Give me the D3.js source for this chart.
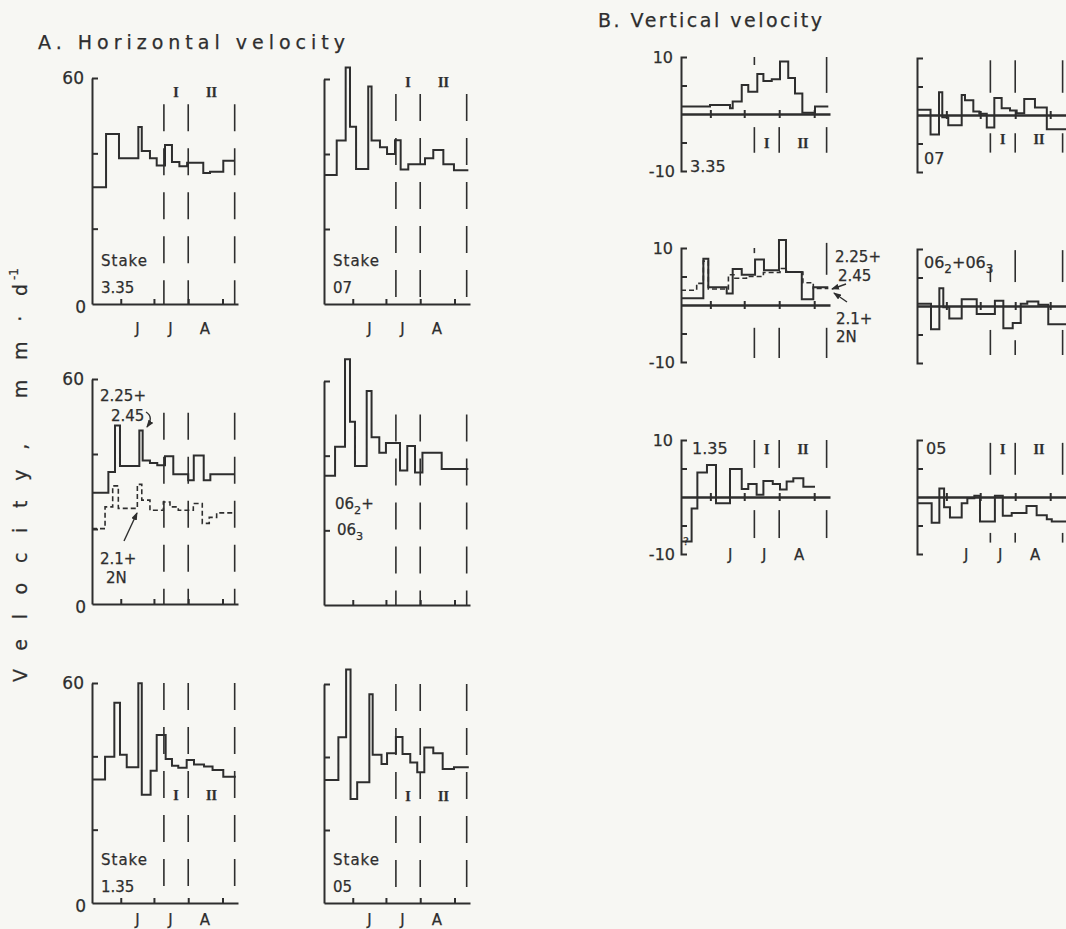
<!DOCTYPE html>
<html>
<head>
<meta charset="utf-8">
<script src="https://cdn.jsdelivr.net/npm/d3@7"></script>
<style>
body{margin:0;background:#f7f7f3}
svg{display:block}
text{font-family:'DejaVu Sans',sans-serif;fill:#2e2e2e;stroke:#2e2e2e;stroke-width:0.25px}
</style>
</head>
<body>
<svg id="chart"></svg>
<script>
// days counted from 1 May; every "Days" list has one entry more than its "Vals" list (last = end of record)
var monthTicks = [31, 61, 92, 123]
var monthNames = ['J', 'J', 'A']
var monthMids = [46, 76, 107]
var periodDays = [70, 92, 134]
var periodNames = ['I', 'II']
var periodMids = [81, 113]
var hTicks = [20, 40, 60]
var vTicks = [-5, 5]

// A. horizontal velocity, mm/d
var h335Days = [5, 17.7, 29.4, 46.9, 50, 57.4, 63.5, 71, 77.3, 84, 91, 105.6, 111.7, 123.7, 134.3]
var h335Vals = [31.0, 45.1, 38.7, 47.0, 40.6, 38.7, 36.8, 42.2, 37.7, 36.6, 37.5, 34.8, 35.1, 38.0]
var h07Days = [5, 16.5, 24.6, 28.5, 34, 45, 48, 55.6, 62, 69.2, 74.3, 81.2, 96.3, 103.8, 112.9, 122.5, 135.5]
var h07Vals = [34.4, 43.6, 63.1, 47.3, 36.0, 58.0, 43.6, 41.8, 40.0, 43.7, 35.9, 37.3, 38.9, 41.1, 37.3, 35.7]
var h225Days = [5, 19.8, 25.8, 30.3, 47.8, 50.8, 57.4, 64, 71, 78.5, 92, 97, 106, 112, 134]
var h225Vals = [29.7, 35.2, 47.6, 36.8, 46.3, 38.3, 37.6, 37.0, 39.4, 34.6, 33.0, 39.6, 33.0, 34.6]
var h21Days = [5, 16.8, 23.7, 28.8, 46, 50, 57.4, 69.5, 75.5, 83, 96.6, 104.7, 111, 117.7, 134]
var h21Vals = [20.1, 25.9, 31.5, 25.5, 31.9, 27.7, 25.0, 27.2, 25.9, 25.0, 26.8, 21.5, 23.1, 24.3]
var h063Days = [5, 15, 24, 28.5, 33, 43.6, 48, 55, 61, 73.7, 80.3, 87.3, 94, 111.4, 135.5]
var h063Vals = [34.6, 42.4, 65.8, 49.1, 37.2, 57.3, 44.9, 40.8, 43.4, 36.0, 42.6, 35.5, 40.8, 36.4]
var h135Days = [5, 16.8, 25.2, 30.3, 36.4, 46.9, 50, 58, 63.5, 71.6, 77.3, 83, 90.6, 97.2, 106.3, 114, 123.7, 135]
var h135Vals = [33.7, 39.9, 54.6, 40.4, 37.0, 59.9, 29.5, 36.1, 45.8, 39.3, 37.4, 36.9, 39.0, 37.8, 37.2, 36.3, 34.4]
var h05Days = [5, 18, 25, 29, 35, 46, 49, 57, 62, 70, 76, 83, 89.3, 95.7, 103.8, 112.3, 122.5, 135.9]
var h05Vals = [33.7, 45.4, 64.0, 28.5, 33.1, 57.2, 40.6, 38.1, 41.0, 45.5, 40.8, 38.5, 35.8, 42.6, 41.0, 36.7, 37.2]

// B. vertical velocity, mm/d
var v335Days = [5, 30.7, 48.4, 50.8, 58.8, 64.6, 72.6, 78, 85.4, 92.7, 100, 106, 112.5, 123.7, 135.5]
var v335Vals = [1.3, 1.6, 1.0, 2.2, 5.1, 3.9, 7.0, 5.8, 6.1, 9.2, 6.3, 3.6, 0.2, 1.3]
var v07Days = [5, 17, 24.5, 27.4, 32.7, 44.6, 47.5, 54.9, 60.2, 66.8, 73.5, 80, 87.4, 93.3, 100, 109.5, 120, 137]
var v07Vals = [0.9, -3.4, 4.0, -0.4, -1.8, 3.5, 2.6, 0.6, 0.2, -2.2, 3.0, 1.2, 0.8, 0.3, 2.8, 1.3, -2.5]
var v225Days = [5, 24.8, 29.2, 45.5, 50.8, 58.8, 70.6, 78.5, 91.8, 98, 112, 122.2, 135.5]
var v225Vals = [1.2, 8.1, 3.1, 2.0, 6.3, 5.3, 8.0, 6.1, 11.4, 5.8, 1.0, 3.1]
var v21Days = [5, 18.9, 24.8, 29.2, 47, 52.8, 63, 78, 92.7, 98.6, 113, 122.2, 135.5]
var v21Vals = [2.6, 3.8, 7.7, 2.8, 5.3, 4.7, 5.0, 5.7, 6.4, 5.8, 3.9, 2.9]
var v063Days = [5, 17.4, 24.8, 28.3, 33.6, 44.6, 57.9, 74, 81.5, 89.8, 96.9, 102.7, 112.5, 121.3, 137]
var v063Vals = [0.4, -4.1, 3.1, -0.2, -2.2, 1.2, -1.4, 0.9, -3.9, -3.0, 0.4, 0.8, 0.2, -3.2]
var v135Days = [5, 14.4, 19.5, 28, 36, 48.4, 58.8, 64.6, 72, 78, 86.3, 92.7, 98.6, 104.5, 113.4, 123.7]
var v135Vals = [-7.8, -2.0, 4.3, 5.6, -1.1, 4.9, 1.4, 2.3, 0.4, 2.8, 2.3, 1.3, 2.7, 3.3, 1.8]
var v05Days = [5, 18, 24.8, 29, 34.2, 44.6, 49.6, 55.8, 60.8, 74, 81, 88.9, 102, 111, 120, 124.4, 137]
var v05Vals = [-1.1, -4.5, 1.5, -1.8, -3.6, -1.1, -0.2, 0.2, -4.3, 0.2, -3.3, -2.8, -1.6, -3.2, -3.9, -4.3]

var ink = '#2e2e2e'
var svg = d3.select('#chart').attr('width', 1066).attr('height', 929)
svg.append('rect').attr('width', 1066).attr('height', 929).attr('fill', '#f7f7f3')

svg.append('defs').append('marker')
  .attr('id', 'arr').attr('viewBox', '0 0 8 6').attr('refX', 7).attr('refY', 3)
  .attr('markerWidth', 8).attr('markerHeight', 6).attr('orient', 'auto')
  .attr('markerUnits', 'userSpaceOnUse')
  .append('path').attr('d', 'M0,0L8,3L0,6z').attr('fill', ink)

var stepPath = function(days, vals, x, y){
  var pts = vals.map(function(v, i){ return [days[i], v] })
  pts.push([days[days.length - 1], vals[vals.length - 1]])
  return d3.line().x(function(d){ return x(d[0]) }).y(function(d){ return y(d[1]) })
    .curve(d3.curveStepAfter)(pts)
}

var styleAxis = function(sel, sw){
  sel.select('.domain').attr('stroke', ink).attr('stroke-width', sw || 2)
  sel.selectAll('.tick line').attr('stroke', ink).attr('stroke-width', 2)
  sel.selectAll('.tick text').remove()
}

// text helper: parts = [[string, isSub], ...]
var label = function(g, x, y, parts, size, anchor){
  var t = g.append('text').attr('x', x).attr('y', y)
    .style('font-size', size + 'px').attr('text-anchor', anchor || 'start')
  if (typeof parts === 'string') parts = [[parts, false]]
  parts.forEach(function(p, i){
    var prevSub = i > 0 && parts[i - 1][1]
    var dy = p[1] ? size * 0.3 : (prevSub ? -size * 0.3 : 0)
    t.append('tspan').attr('dy', dy).style('font-size', (p[1] ? size * 0.75 : size) + 'px').text(p[0])
  })
  return t
}

var roman = function(g, x, y, txt){
  g.append('text').attr('x', x).attr('y', y).attr('text-anchor', 'middle')
    .style('font-family', "'Liberation Serif',serif").style('font-weight', 'bold')
    .style('font-size', '14px').text(txt)
}

var panelA = function(o){
  var w = 146, h = o.bottom - o.top
  var x = d3.scaleLinear().domain([5, 137]).range([0, w])
  var y = d3.scaleLinear().domain([0, 60]).range([h, 0])
  var g = svg.append('g').attr('transform', 'translate(' + o.x + ',' + o.top + ')')

  g.selectAll('.per').data(periodDays).enter().append('line')
    .attr('x1', function(d){ return x(d) }).attr('x2', function(d){ return x(d) })
    .attr('y1', y(o.dashFrom)).attr('y2', h)
    .attr('stroke', ink).attr('stroke-width', 1.6).attr('stroke-dasharray', '27,17')

  var ya = g.append('g').call(d3.axisRight(y).tickValues(hTicks).tickSize(6).tickSizeOuter(0).tickFormat(''))
  styleAxis(ya)
  var xa = g.append('g').attr('transform', 'translate(0,' + h + ')')
    .call(d3.axisTop(x).tickValues(monthTicks).tickSize(5).tickSizeOuter(0).tickFormat(''))
  styleAxis(xa)

  o.series.forEach(function(s){
    g.append('path').attr('d', stepPath(s.days, s.vals, x, y))
      .attr('fill', 'none').attr('stroke', ink).attr('stroke-width', s.dash ? 1.6 : 2)
      .attr('stroke-dasharray', s.dash ? '5,3' : null)
  })

  if (o.axisLabels){
    label(g, -8, y(60) + 6, '60', 17, 'end')
    label(g, -6, h + 9, '0', 17, 'end')
  }
  if (o.months){
    monthNames.forEach(function(m, i){ label(g, x(monthMids[i]), h + o.months, m, 15, 'middle') })
  }
  if (o.romanY != null){
    periodNames.forEach(function(r, i){ roman(g, x(periodMids[i]), y(o.romanY), r) })
  }
  if (o.stake){
    label(g, 9, h - 38, 'Stake', 15).attr('letter-spacing', 1)
    label(g, 9, h - 11, o.stake, 15)
  }
  return {g: g, x: x, y: y, h: h}
}

var panelB = function(o){
  var w = 149, hh = 57
  var x = d3.scaleLinear().domain([5, 137]).range([0, w])
  var y = d3.scaleLinear().domain([-10, 10]).range([hh, -hh])
  var g = svg.append('g').attr('transform', 'translate(' + o.x + ',' + o.zero + ')')

  o.segs.forEach(function(list, i){
    list.forEach(function(s){
      g.append('line').attr('x1', x(periodDays[i])).attr('x2', x(periodDays[i]))
        .attr('y1', y(s[0])).attr('y2', y(s[1])).attr('stroke', ink).attr('stroke-width', 1.6)
    })
  })

  var ya = g.append('g').call(d3.axisRight(y).tickValues(vTicks).tickSize(6).tickSizeOuter(6).tickFormat(''))
  styleAxis(ya)
  var za = g.append('g').call(d3.axisBottom(x).tickValues(monthTicks).tickSize(4).tickSizeOuter(0).tickFormat(''))
  styleAxis(za, 2.6)
  za.selectAll('.tick line').attr('y1', -4).attr('y2', 4)

  o.series.forEach(function(s){
    g.append('path').attr('d', stepPath(s.days, s.vals, x, y))
      .attr('fill', 'none').attr('stroke', ink).attr('stroke-width', s.dash ? 1.6 : 2)
      .attr('stroke-dasharray', s.dash ? '5,3' : null)
  })

  if (o.axisLabels){
    label(g, -8, y(10) + 6, '10', 16, 'end')
    label(g, -6, y(-10) + 6, '-10', 16, 'end')
  }
  if (o.romanY != null){
    periodNames.forEach(function(r, i){ roman(g, x(periodMids[i]), y(o.romanY), r) })
  }
  if (o.months){
    monthNames.forEach(function(m, i){ label(g, x(monthMids[i]) + 3, y(-10) + 6, m, 15, 'middle') })
  }
  return {g: g, x: x, y: y}
}

// titles
svg.append('text').attr('x', 38).attr('y', 49).attr('textLength', 307).attr('lengthAdjust', 'spacing')
  .style('font-size', '19px').text('A. Horizontal velocity')
svg.append('text').attr('x', 598).attr('y', 27).attr('textLength', 224).attr('lengthAdjust', 'spacing')
  .style('font-size', '19px').text('B. Vertical velocity')

var yl = svg.append('g').attr('transform', 'translate(27,682) rotate(-90)')
yl.append('text').attr('x', 0).attr('y', 0).attr('textLength', 398).attr('lengthAdjust', 'spacing')
  .style('font-size', '19px').text('Velocity,  mm·d')
yl.append('text').attr('x', 402).attr('y', -9).style('font-size', '12px').text('-1')

// A panels
panelA({x: 92, top: 78, bottom: 304, dashFrom: 53, axisLabels: true, months: 30, romanY: 55, stake: '3.35',
  series: [{days: h335Days, vals: h335Vals}]})
panelA({x: 324, top: 79, bottom: 304, dashFrom: 56, months: 30, romanY: 58, stake: '07',
  series: [{days: h07Days, vals: h07Vals}]})

var a2 = panelA({x: 92, top: 379, bottom: 604, dashFrom: 51, axisLabels: true,
  series: [{days: h225Days, vals: h225Vals}, {days: h21Days, vals: h21Vals, dash: true}]})
label(a2.g, 8, 22, '2.25+', 15)
label(a2.g, 19, 42, '2.45', 15)
a2.g.append('path').attr('d', 'M54,33 Q62,38 55,48').attr('fill', 'none').attr('stroke', ink)
  .attr('stroke-width', 1.4).attr('marker-end', 'url(#arr)')
label(a2.g, 8, 185, '2.1+', 15)
label(a2.g, 14, 204, '2N', 15)
a2.g.append('line').attr('x1', 32).attr('y1', 162).attr('x2', 45).attr('y2', 134)
  .attr('stroke', ink).attr('stroke-width', 1.4).attr('marker-end', 'url(#arr)')

var a2r = panelA({x: 324, top: 381, bottom: 605, dashFrom: 51,
  series: [{days: h063Days, vals: h063Vals}]})
label(a2r.g, 11, 128, [['06', false], ['2', true], ['+', false]], 15)
label(a2r.g, 13, 154, [['06', false], ['3', true]], 15)

panelA({x: 92, top: 683, bottom: 903, dashFrom: 60, axisLabels: true, months: 22, romanY: 28, stake: '1.35',
  series: [{days: h135Days, vals: h135Vals}]})
panelA({x: 324, top: 684, bottom: 903, dashFrom: 60, months: 22, romanY: 28, stake: '05',
  series: [{days: h05Days, vals: h05Vals}]})

// B panels
var b1 = panelB({x: 681, zero: 114, axisLabels: true, romanY: -6,
  segs: [[[10, 8.6], [-2.3, -6.8]], [[-2.3, -6.8]], [[10, 3.7], [-2.3, -6.8]]],
  series: [{days: v335Days, vals: v335Vals}]})
label(b1.g, 9, 58, '3.35', 16)

var b1r = panelB({x: 917, zero: 115, romanY: -5,
  segs: [[[9.6, 3.9], [-3.2, -6.6]], [[9.6, 3.9], [-3.2, -6.6]], [[9.6, 3.9], [-3.2, -6.6]]],
  series: [{days: v07Days, vals: v07Vals}]})
label(b1r.g, 7, 49, '07', 16)

var b2 = panelB({x: 681, zero: 305, axisLabels: true,
  segs: [[[10, 9.1], [-4.0, -9.3]], [[-4.0, -9.3]], [[10.9, 5.3], [-4.0, -9.3]]],
  series: [{days: v225Days, vals: v225Vals}, {days: v21Days, vals: v21Vals, dash: true}]})
label(b2.g, 154, -43, '2.25+', 15)
label(b2.g, 157, -24, '2.45', 15)
label(b2.g, 155, 19, '2.1+', 15)
label(b2.g, 155, 37, '2N', 15)
b2.g.append('line').attr('x1', 165).attr('y1', -21).attr('x2', 151).attr('y2', -16)
  .attr('stroke', ink).attr('stroke-width', 1.4).attr('marker-end', 'url(#arr)')
b2.g.append('line').attr('x1', 166).attr('y1', -3).attr('x2', 153).attr('y2', -12)
  .attr('stroke', ink).attr('stroke-width', 1.4).attr('marker-end', 'url(#arr)')

var b2r = panelB({x: 917, zero: 306,
  segs: [[[6.7, 4.2], [-4.2, -8.6]], [[9.8, 4.2], [-6, -8.6]], [[9.8, 4.2], [-4.2, -8.6]]],
  series: [{days: v063Days, vals: v063Vals}]})
label(b2r.g, 7, -38, [['06', false], ['2', true], ['+06', false], ['3', true]], 16)

var b3 = panelB({x: 681, zero: 497, axisLabels: true, romanY: 7.6, months: true,
  segs: [[[10, 5.1], [-2.3, -7.2]], [[10, 5.1], [-2.3, -7.2]], [[10, 5.1], [-2.3, -7.2]]],
  series: [{days: v135Days, vals: v135Vals}]})
label(b3.g, 11, -43, '1.35', 16)
label(b3.g, 2, 48, '?', 11)

var b3r = panelB({x: 917, zero: 497, romanY: 7.6, months: true,
  segs: [[[9.5, 3.9], [-6.3, -8]], [[9.5, 3.9], [-6.3, -8]], [[9.5, 3.9], [-6.3, -8]]],
  series: [{days: v05Days, vals: v05Vals}]})
label(b3r.g, 9, -43, '05', 16)
</script>
</body>
</html>
